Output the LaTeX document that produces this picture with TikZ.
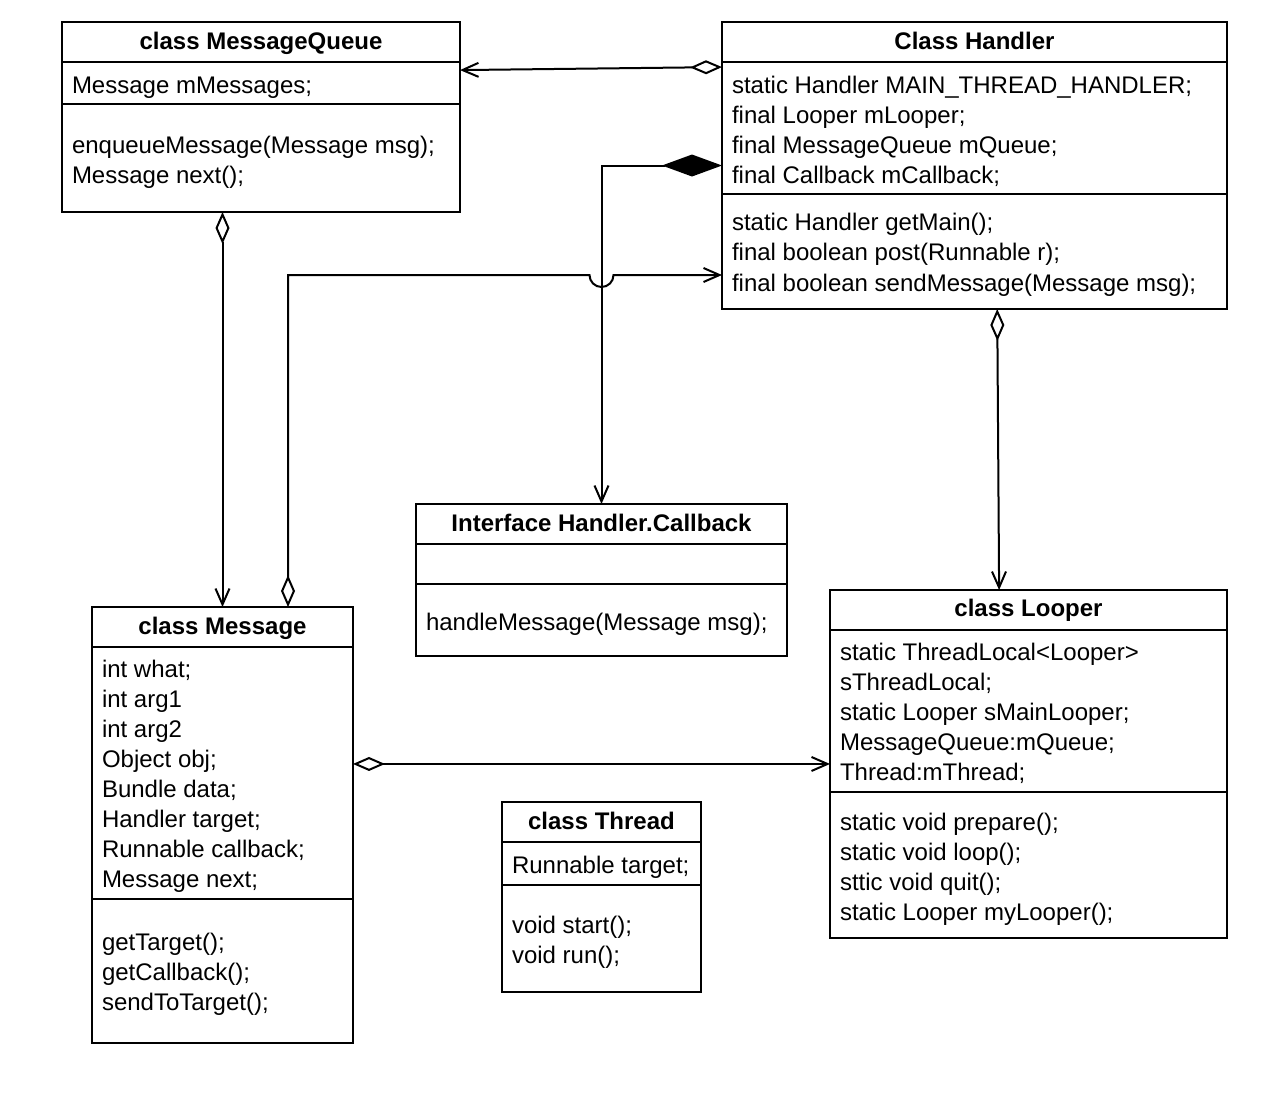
\documentclass[tikz,border=0pt]{standalone}
\usepackage{fontspec}
\setmainfont{Liberation Sans}
\usetikzlibrary{arrows.meta,calc}

\begin{document}
\begin{tikzpicture}[x=0.5pt,y=-0.5pt,line width=1pt,
    every node/.style={font=\fontsize{12}{15}\selectfont},
    cls/.style={draw,line width=1pt,anchor=north west,inner sep=0pt,outer sep=0pt},
    txt/.style={anchor=base west,inner sep=0pt},
    ttl/.style={anchor=base,inner sep=0pt,font=\fontsize{12}{15}\selectfont\bfseries},
    agg/.style={{Diamond[open,length=16pt,width=7pt]}-{Straight Barb[length=8pt,width=7pt]}},
    comp/.style={{Diamond[length=30pt,width=11pt]}-{Straight Barb[length=8pt,width=7pt]}}]

          \useasboundingbox (0,0) rectangle (1264,1100);

          % class boxes
          \node[cls,minimum width=199pt,minimum height=95pt] (mq) at (62,22) {};
          \node[cls,minimum width=252.5pt,minimum height=143.5pt] (handler) at (722,22) {};
          \node[cls,minimum width=185.5pt,minimum height=76pt] (cb) at (416,504) {};
          \node[cls,minimum width=130.5pt,minimum height=218pt] (msg) at (92,607) {};
          \node[cls,minimum width=99.5pt,minimum height=95pt] (thread) at (502,802) {};
          \node[cls,minimum width=198.5pt,minimum height=174pt] (looper) at (830,590) {};

          \draw (mq.west |- 0,62) -- (mq.east |- 0,62);
          \draw (mq.west |- 0,104) -- (mq.east |- 0,104);
          \draw (handler.west |- 0,62) -- (handler.east |- 0,62);
          \draw (handler.west |- 0,194) -- (handler.east |- 0,194);
          \draw (cb.west |- 0,544) -- (cb.east |- 0,544);
          \draw (cb.west |- 0,584) -- (cb.east |- 0,584);
          \draw (msg.west |- 0,647) -- (msg.east |- 0,647);
          \draw (msg.west |- 0,899) -- (msg.east |- 0,899);
          \draw (thread.west |- 0,842) -- (thread.east |- 0,842);
          \draw (thread.west |- 0,885) -- (thread.east |- 0,885);
          \draw (looper.west |- 0,630) -- (looper.east |- 0,630);
          \draw (looper.west |- 0,792) -- (looper.east |- 0,792);

          % titles
          \node[ttl] (mq-t) at (261,49) {class MessageQueue};
          \node[ttl] (handler-t) at (974.5,49) {Class Handler};
          \node[ttl] (cb-t) at (601.5,531) {Interface Handler.Callback};
          \node[ttl] (msg-t) at (222.5,634) {class Message};
          \node[ttl] (thread-t) at (601.5,829) {class Thread};
          \node[ttl] (looper-t) at (1028.5,616) {class Looper};

          % members
          \node[txt] (mq-a0) at (71,93) {Message mMessages;};
          \foreach \t [count=\i from 0] in {enqueueMessage(Message msg);, Message next();}{
            \node[txt] (mq-m\i) at (71,153+30*\i) {\t};
          }

          \foreach \t [count=\i from 0] in {static Handler MAIN\_THREAD\_HANDLER;, final Looper mLooper;,
              final MessageQueue mQueue;, final Callback mCallback;}{
            \node[txt] (handler-a\i) at (731,93+30*\i) {\t};
          }
          \foreach \t [count=\i from 0] in {static Handler getMain();, final boolean post(Runnable r);,
              final boolean sendMessage(Message msg);}{
            \node[txt] (handler-m\i) at (731,230+30.5*\i) {\t};
          }

          \node[txt] (cb-m0) at (425,630) {handleMessage(Message msg);};

          \foreach \t [count=\i from 0] in {int what;, int arg1, int arg2, Object obj;, Bundle data;,
              Handler target;, Runnable callback;, Message next;}{
            \node[txt] (msg-a\i) at (101,677+30*\i) {\t};
          }
          \foreach \t [count=\i from 0] in {getTarget();, getCallback();, sendToTarget();}{
            \node[txt] (msg-m\i) at (101,950+30*\i) {\t};
          }

          \node[txt] (thread-a0) at (511,873) {Runnable target;};
          \foreach \t [count=\i from 0] in {void start();, void run();}{
            \node[txt] (thread-m\i) at (511,933+30*\i) {\t};
          }

          \foreach \t [count=\i from 0] in {static ThreadLocal<Looper>, sThreadLocal;,
              static Looper sMainLooper;, MessageQueue:mQueue;, Thread:mThread;}{
            \node[txt] (looper-a\i) at (839,660+30*\i) {\t};
          }
          \foreach \t [count=\i from 0] in {static void prepare();, static void loop();,
              sttic void quit();, static Looper myLooper();}{
            \node[txt] (looper-m\i) at (839,830+30*\i) {\t};
          }

          % relations
          \draw[agg] ($(handler.north west)!0.157!(handler.south west)$) -- ($(mq.north east)!0.253!(mq.south east)$);
          \draw[comp] (handler.west) -| (cb.north);
          \draw[agg] (mq.south -| msg.north) -- (msg.north);
          \draw[agg] ($(handler.south west)!0.545!(handler.south east)$) -- ($(looper.north west)!0.426!(looper.north east)$);

          \coordinate (mr) at ($(msg.north east)!0.36!(msg.south east)$);
          \draw[agg] (mr) -- (mr -| looper.west);

          \coordinate (mt) at ($(msg.north west)!0.751!(msg.north east)$);
          \coordinate (hs) at ($(handler.north west)!0.8815!(handler.south west)$);
          \draw[agg] (mt) -- (mt |- hs) -- ($(cb.north |- hs)+(-12,0)$) arc (180:0:12) -- (hs);
        \end{tikzpicture}
\end{document}
